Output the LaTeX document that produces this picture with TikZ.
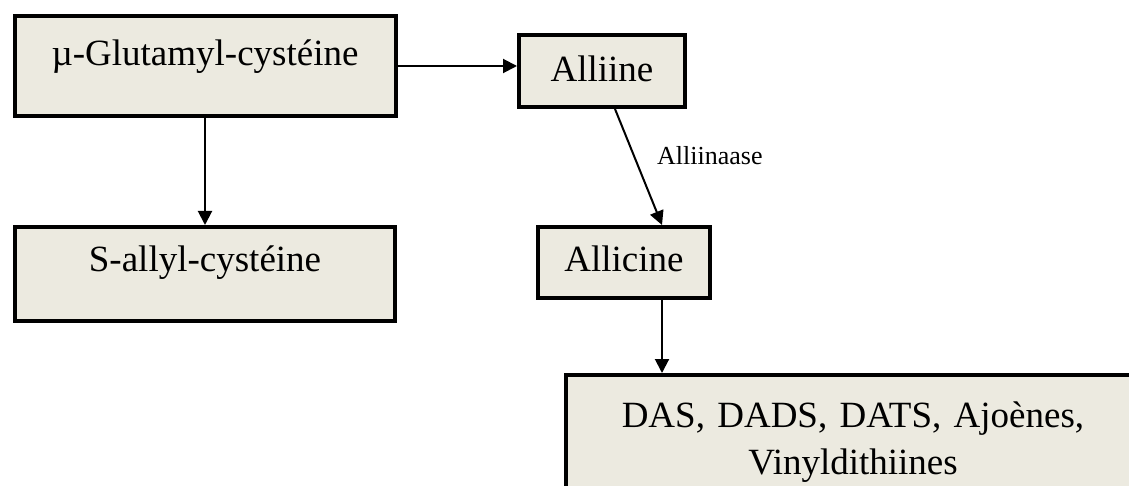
\documentclass[tikz,border=0pt]{standalone}
\usepackage{fontspec}
\setmainfont{Liberation Serif}
\usetikzlibrary{arrows.meta,calc}
\definecolor{boxfill}{RGB}{236,234,224}
\tikzset{
  box/.style={draw=black, fill=boxfill, line width=4pt, inner xsep=0pt, inner ysep=0pt,
    font=\fontsize{37}{47}\selectfont, anchor=base},
  arr/.style={line width=2pt, -{Triangle[length=14pt,width=14pt]}},
  lbl/.style={font=\fontsize{26}{30}\selectfont, anchor=base west, inner sep=0pt}
}
\begin{document}
\begin{tikzpicture}[x=1pt,y=-1pt]
\useasboundingbox (0,0) rectangle (1129,486);
\clip (0,0) rectangle (1129,486);
\node[box, minimum width=381pt, text height=50pt, text depth=50pt] (glu) at (205,66) {µ-Glutamyl-cystéine};
\node[box, minimum width=380pt, text height=45pt, text depth=49pt] (sal) at (205,272) {S-allyl-cystéine};
\node[box, minimum width=166pt, text height=47pt, text depth=25pt] (alliine) at (602,82) {Alliine};
\node[box, minimum width=172pt, text height=45pt, text depth=26pt] (allicine) at (624,272) {Allicine};
\node[box, anchor=north, text width=574pt, align=center, inner ysep=27pt] (das) at (853,373) {DAS, DADS, DATS, Ajoènes,\\Vinyldithiines};
\node[lbl] (enz) at (657,165) {Alliinaase};
\coordinate (a1) at ([xshift=13pt]alliine.south);
\coordinate (a2) at ([xshift=38pt]allicine.north);
\coordinate (a3) at ([xshift=38pt]allicine.south);
\draw[arr] (glu.east) -- (glu.east -| alliine.west);
\draw[arr] (glu.south) -- (sal.north);
\draw[arr] (a1) -- (a2);
\draw[arr] (a3) -- (a3 |- das.north);
\end{tikzpicture}
\end{document}
